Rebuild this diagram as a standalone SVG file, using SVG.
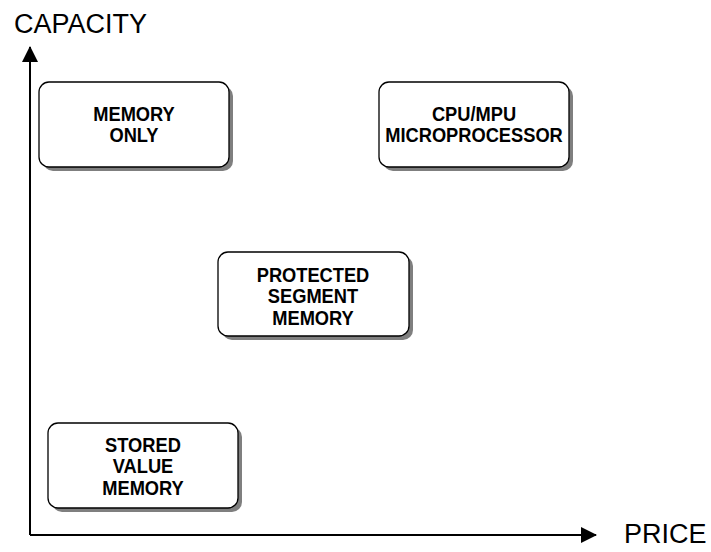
<svg xmlns="http://www.w3.org/2000/svg" width="711" height="552" viewBox="0 0 711 552">
<style>
.shadow{fill:#7f7f7f;stroke:none}
.box{fill:#ffffff;stroke:#000000;stroke-width:1.3}
.lbl{font-family:"Liberation Sans",Arial,sans-serif;font-weight:bold;font-size:21px;fill:#000;text-anchor:middle}
.axis{font-family:"Liberation Sans",Arial,sans-serif;font-size:27px;fill:#000}
.ax{stroke:#000;stroke-width:2;fill:none}
</style>
<defs>
<marker id="arr" viewBox="0 0 16 16" refX="15" refY="8" markerWidth="16" markerHeight="16" markerUnits="userSpaceOnUse" orient="auto">
<path d="M0,0 L16,8 L0,16 Z" fill="#000"/>
</marker>
</defs>
<rect width="711" height="552" fill="#ffffff"/>
<g id="connectors">
<path class="ax" d="M30,535 L30,47" marker-end="url(#arr)"/>
<path class="ax" d="M30,535 L596,535" marker-end="url(#arr)"/>
</g>
<g id="axis-labels">
<text class="axis" x="14" y="33">CAPACITY</text>
<text class="axis" x="624" y="543">PRICE</text>
</g>
<g id="memory-only">
<rect class="shadow" x="43" y="86" width="190" height="85" rx="10"/>
<rect class="box" x="39" y="82" width="190" height="85" rx="10"/>
<g transform="translate(134,0) scale(0.87,1)">
<text class="lbl" x="0" y="121">MEMORY</text>
<text class="lbl" x="0" y="142">ONLY</text>
</g>
</g>
<g id="cpu-mpu">
<rect class="shadow" x="383" y="86" width="190" height="85" rx="10"/>
<rect class="box" x="379" y="82" width="190" height="85" rx="10"/>
<g transform="translate(474,0) scale(0.87,1)">
<text class="lbl" x="0" y="121">CPU/MPU</text>
<text class="lbl" x="0" y="142">MICROPROCESSOR</text>
</g>
</g>
<g id="protected-segment">
<rect class="shadow" x="222" y="256" width="191" height="84" rx="10"/>
<rect class="box" x="218" y="252" width="191" height="84" rx="10"/>
<g transform="translate(313,0) scale(0.87,1)">
<text class="lbl" x="0" y="282">PROTECTED</text>
<text class="lbl" x="0" y="303.5">SEGMENT</text>
<text class="lbl" x="0" y="325">MEMORY</text>
</g>
</g>
<g id="stored-value">
<rect class="shadow" x="52" y="427" width="190" height="85" rx="10"/>
<rect class="box" x="48" y="423" width="190" height="85" rx="10"/>
<g transform="translate(143,0) scale(0.87,1)">
<text class="lbl" x="0" y="452">STORED</text>
<text class="lbl" x="0" y="473.5">VALUE</text>
<text class="lbl" x="0" y="495">MEMORY</text>
</g>
</g>
</svg>
